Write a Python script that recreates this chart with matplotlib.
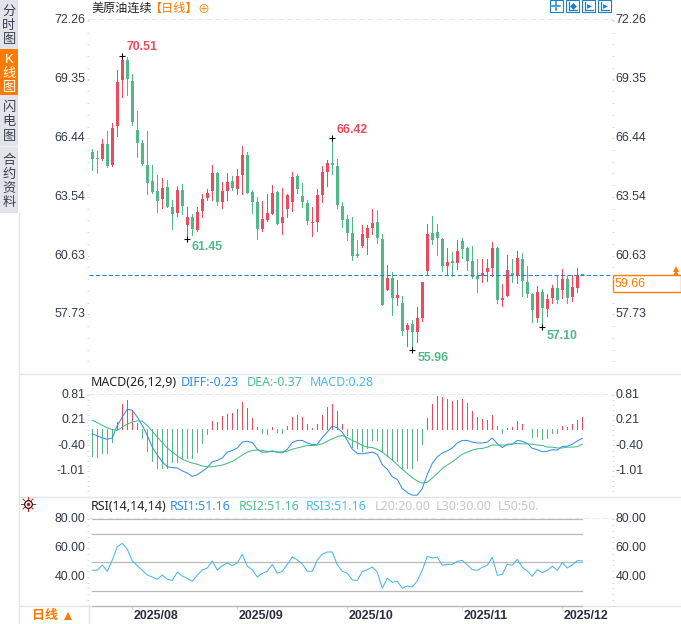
import matplotlib
matplotlib.use('Agg')
import numpy as np
import matplotlib.pyplot as plt
from matplotlib.patches import Rectangle
from matplotlib.ticker import FormatStrFormatter, AutoMinorLocator
from matplotlib.transforms import ScaledTranslation

plt.rcParams['font.family'] = ['Liberation Sans', 'Noto Sans CJK SC', 'DejaVu Sans']
plt.rcParams['axes.unicode_minus'] = False

# daily candles
opens = [65.75,65.46,65.41,66.15,65.11,67.04,69.31,70.30,69.26,66.84,66.18,65.11,64.32,63.82,63.43,64.02,63.03,62.74,63.87,62.14,
	62.54,61.90,62.84,63.48,63.82,64.71,63.28,63.82,64.32,63.92,64.61,65.60,63.77,63.28,61.95,62.39,62.69,63.77,62.24,62.93,
	63.28,64.56,63.58,63.23,62.26,62.29,63.63,64.76,65.21,65.06,63.08,62.44,61.75,60.71,61.11,61.50,61.99,62.29,61.45,58.93,
	59.52,58.53,58.29,56.95,57.25,56.85,57.55,59.87,61.75,61.80,61.45,60.12,60.36,60.27,61.35,61.01,60.36,59.62,59.62,59.82,
	60.02,61.01,58.44,58.63,59.77,59.62,60.46,59.33,58.73,57.55,58.83,57.99,58.54,59.03,58.93,59.47,58.58,59.03,59.70]
highs = [65.90,65.80,66.39,66.79,67.19,69.80,70.51,70.45,69.61,67.78,66.35,66.79,65.11,64.61,64.47,64.37,63.38,64.07,64.17,63.03,
	62.69,63.03,63.68,63.92,65.11,64.76,64.27,64.71,64.57,64.91,66.05,65.75,63.87,63.53,63.33,63.68,64.12,63.82,63.97,63.68,
	64.76,64.66,64.22,63.38,63.03,63.92,65.06,65.36,66.42,65.41,63.28,62.64,62.54,61.40,62.14,62.14,62.93,62.88,61.70,60.17,
	59.82,59.42,58.63,57.30,57.45,58.09,59.33,62.19,62.59,62.19,61.50,61.01,60.81,61.40,61.50,61.06,61.11,60.46,60.46,60.46,
	61.30,61.06,59.23,60.66,60.46,60.86,60.76,60.12,58.78,59.13,59.00,58.73,59.18,59.62,59.97,59.62,59.67,60.02,59.72]
lows = [64.86,64.71,65.36,65.01,65.06,66.54,68.47,68.57,67.09,65.50,65.11,63.68,63.73,62.79,62.98,63.03,61.95,62.59,62.69,61.45,
	61.65,61.85,62.54,63.38,63.38,63.13,62.98,63.38,63.87,63.68,63.68,63.73,62.74,61.45,61.85,62.32,62.69,62.19,61.70,62.54,
	62.83,63.72,63.03,62.19,61.60,61.85,63.28,64.07,64.66,62.98,62.04,61.40,60.41,60.56,61.06,60.71,61.70,61.25,58.19,58.93,
	57.69,58.19,56.71,56.16,55.96,56.36,57.40,59.67,61.20,60.66,59.87,59.72,59.62,59.97,60.51,59.92,59.52,58.83,59.33,59.38,
	59.62,58.29,58.14,58.63,59.33,59.28,58.63,58.58,57.35,57.35,57.10,57.65,58.29,58.29,58.54,58.29,58.39,58.83,59.66]
closes = [65.41,65.42,66.15,65.06,66.94,69.21,70.30,69.36,67.23,66.20,65.16,64.22,63.77,63.33,63.97,63.03,62.69,63.87,63.08,62.54,
	61.95,62.79,63.43,63.73,64.71,63.28,63.82,64.27,63.97,64.57,65.60,63.73,63.28,61.95,62.44,62.74,63.72,62.19,62.54,63.63,
	64.52,63.92,63.28,62.34,62.29,63.63,64.76,65.21,65.11,63.13,62.39,61.75,60.61,60.61,61.70,61.99,62.24,61.50,58.19,59.52,
	58.53,58.68,56.90,57.20,56.85,57.55,59.33,61.70,61.40,61.50,60.12,60.31,60.27,60.86,60.96,60.36,59.57,59.47,59.77,60.02,
	61.01,58.44,58.54,59.92,59.67,60.51,59.38,58.73,57.94,58.83,58.04,58.49,59.03,58.44,59.47,58.54,59.08,59.67,59.66]

macd_hist = [-0.65,-0.67,-0.58,-0.58,-0.32,0.16,0.59,0.69,0.42,0.14,-0.22,-0.53,-0.77,-0.94,-0.94,-0.94,-0.79,-0.79,-0.70,-0.70,
	-0.70,-0.56,-0.34,-0.12,0.19,0.16,0.31,0.35,0.38,0.47,0.63,0.50,0.26,0.04,-0.11,-0.12,0.04,-0.08,-0.11,0.07,
	0.28,0.33,0.28,0.11,0.01,0.11,0.33,0.52,0.59,0.42,0.11,-0.16,-0.44,-0.47,-0.53,-0.46,-0.27,-0.27,-0.56,-0.65,
	-0.75,-0.77,-0.94,-0.94,-0.94,-0.75,-0.36,0.26,0.59,0.78,0.76,0.71,0.67,0.69,0.71,0.62,0.43,0.28,0.23,0.21,
	0.33,0.07,-0.10,0.02,0.04,0.19,0.11,-0.01,-0.20,-0.17,-0.24,-0.22,-0.11,-0.11,0.07,0.04,0.11,0.21,0.28]
diff = [-0.12,-0.17,-0.22,-0.25,-0.22,0.08,0.28,0.47,0.44,0.28,0.08,-0.16,-0.44,-0.63,-0.79,-0.91,-0.93,-0.94,-1.01,-1.06,
	-1.14,-1.10,-1.02,-0.93,-0.79,-0.76,-0.70,-0.56,-0.52,-0.46,-0.32,-0.30,-0.33,-0.49,-0.56,-0.56,-0.53,-0.56,-0.58,-0.49,
	-0.33,-0.28,-0.28,-0.34,-0.38,-0.37,-0.21,-0.08,0.07,0.02,-0.08,-0.28,-0.49,-0.59,-0.60,-0.58,-0.56,-0.61,-0.86,-0.97,
	-1.15,-1.21,-1.43,-1.53,-1.59,-1.59,-1.43,-1.09,-0.83,-0.67,-0.58,-0.53,-0.46,-0.34,-0.28,-0.28,-0.32,-0.34,-0.34,-0.32,
	-0.22,-0.36,-0.45,-0.37,-0.37,-0.28,-0.30,-0.35,-0.47,-0.50,-0.55,-0.54,-0.50,-0.51,-0.42,-0.42,-0.37,-0.29,-0.23]
dea = [0.20,0.15,0.08,0.02,-0.02,-0.04,0.04,0.11,0.16,0.19,0.18,0.08,-0.06,-0.20,-0.33,-0.46,-0.56,-0.65,-0.73,-0.78,
	-0.82,-0.85,-0.89,-0.91,-0.91,-0.89,-0.87,-0.83,-0.78,-0.71,-0.63,-0.56,-0.52,-0.51,-0.52,-0.54,-0.54,-0.56,-0.55,-0.54,
	-0.49,-0.46,-0.43,-0.40,-0.40,-0.39,-0.36,-0.30,-0.24,-0.19,-0.16,-0.21,-0.28,-0.33,-0.40,-0.44,-0.45,-0.49,-0.56,-0.65,
	-0.75,-0.86,-0.97,-1.07,-1.17,-1.25,-1.30,-1.28,-1.18,-1.07,-0.95,-0.87,-0.79,-0.70,-0.61,-0.56,-0.51,-0.48,-0.47,-0.44,
	-0.39,-0.39,-0.39,-0.39,-0.36,-0.35,-0.36,-0.36,-0.37,-0.39,-0.40,-0.44,-0.44,-0.46,-0.46,-0.44,-0.44,-0.43,-0.37]
rsi = [44.6,44.6,48.3,43.9,51.8,61.0,63.3,59.2,51.1,47.8,44.6,41.3,39.9,38.3,41.3,38.3,37.6,43.2,40.6,39.0,
	36.9,41.3,44.8,46.2,51.1,44.8,47.8,49.7,47.8,49.7,55.7,47.4,45.0,39.9,42.5,43.9,48.7,42.5,43.9,48.7,
	53.8,51.8,49.0,43.9,43.9,51.8,55.7,57.3,57.3,48.3,43.9,42.5,37.9,37.6,43.7,45.0,46.9,43.2,32.1,39.0,
	36.2,36.9,32.1,33.7,33.0,37.2,44.8,54.3,53.1,53.8,48.1,48.7,48.7,50.8,51.5,48.3,45.0,44.6,46.7,48.1,
	53.6,41.1,41.8,48.7,48.1,52.2,46.7,44.1,40.4,45.0,42.9,44.6,47.4,44.6,49.9,46.2,48.3,51.3,51.16]

price_ticks = [72.26,69.35,66.44,63.54,60.63,57.73]
macd_ticks = [0.81,0.21,-0.40,-1.01]
rsi_ticks = [80,60,40]
rsi_levels = [80,70,50,30,20]
date_idx = [8,29,51,74,94]
date_labels = ['2025/08','2025/09','2025/10','2025/11','2025/12']
# index of the candle, side, label offset in px
extremes = [(6,'high',4,9),(48,'high',4,8),(19,'low',4,-8),(64,'low',5,-8),(90,'low',4,-9)]

red = '#ec4a5e'
green = '#52b888'
blue = '#2f8cf0'
sky = '#3fb6e8'
orange = '#ff7a00'
label_col = '#333a4a'
line_col = '#dfe5ea'
W, H = 681, 624

fig = plt.figure(figsize=(W/100., H/100.), dpi=100)

def px_axes(left, top, right, bottom):
	a = fig.add_axes([left/W, 1-bottom/H, (right-left)/W, (bottom-top)/H])
	a.set_facecolor('none')
	return a

# page furniture in pixel coordinates
bg = px_axes(0, 0, W, H)
bg.set_xlim(0, W)
bg.set_ylim(H, 0)
bg.axis('off')

bg.add_patch(Rectangle((0,0), 18, 213, fc='#e2e4ea', ec='none'))
bg.add_patch(Rectangle((0,49), 18, 46, fc=orange, ec='none'))
bg.plot([0,18], [146,146], color='#f2f3f6', lw=1)
side = [('分',11.5),('时',25.5),('图',39.5),('K',60),('线',74),('图',88),('闪',108),('电',122.5),('图',137),
	('合',161),('约',174.5),('资',188.5),('料',203)]
for ch, y in side:
	c = 'white' if 49 < y < 95 else '#3c4250'
	bg.text(9, y, ch, ha='center', va='center', fontsize=9.5, color=c)

bg.plot([18.5,18.5], [213,H], color=line_col, lw=1)
bg.plot([19,W], [373.5,373.5], color=line_col, lw=1)
bg.plot([19,W], [496.5,496.5], color=line_col, lw=1)
bg.plot([19,W], [605.5,605.5], color=line_col, lw=1)
bg.plot([88.5,88.5], [605,H], color=line_col, lw=1)

bg.text(91, 8.5, '美原油连续', fontsize=8.7, va='center', color='#222222')
bg.text(149.5, 8.5, '【日线】', fontsize=8.7, va='center', color=orange)
bg.text(204, 9, '⊕', fontsize=8.7, ha='center', va='center', color=orange)

bg.text(91, 383, 'MACD(26,12,9)', fontsize=8.95, va='center', color='#222222', family=['Noto Sans'])
bg.text(181, 383, 'DIFF:-0.23', fontsize=8.95, va='center', color=blue, family=['Noto Sans'])
bg.text(247, 383, 'DEA:-0.37', fontsize=8.95, va='center', color='#4cc08e', family=['Noto Sans'])
bg.text(310, 383, 'MACD:0.28', fontsize=8.95, va='center', color='#46b8f0', family=['Noto Sans'])

bg.text(91, 507, 'RSI(14,14,14)', fontsize=8.95, va='center', color='#222222', family=['Noto Sans'])
bg.text(170, 507, 'RSI1:51.16', fontsize=8.95, va='center', color=blue, family=['Noto Sans'])
bg.text(239, 507, 'RSI2:51.16', fontsize=8.95, va='center', color='#4cc08e', family=['Noto Sans'])
bg.text(306, 507, 'RSI3:51.16', fontsize=8.95, va='center', color='#46b8f0', family=['Noto Sans'])
bg.text(375, 507, 'L20:20.00', fontsize=8.95, va='center', color='#c6c6c6', family=['Noto Sans'])
bg.text(436, 507, 'L30:30.00', fontsize=8.95, va='center', color='#c6c6c6', family=['Noto Sans'])
bg.text(498, 507, 'L50:50.', fontsize=8.95, va='center', color='#c6c6c6', family=['Noto Sans'])

# little settings sun next to the RSI title
bg.plot([28], [504], 'o', ms=5.5, mfc='white', mec='black', mew=0.8)
bg.plot([28], [504], 'o', ms=2.6, mfc='#e01010', mew=0)
for ang in np.arange(0, 360, 45):
	dx, dy = np.cos(np.radians(ang)), np.sin(np.radians(ang))
	bg.plot([28+5*dx, 28+7*dx], [504+5*dy, 504+7*dy], color='#e01010', lw=0.7)

bg.text(32, 616, '日线', fontsize=9.3, va='center', color=orange, weight='bold')
bg.plot([68], [616], '^', ms=6, color=orange, mew=0)

# toolbar icons, top right
for left, kind in zip([549.5,565.5,581.5,597.5], range(4)):
	bg.add_patch(Rectangle((left,0), 13, 12, fc='white', ec='#1a7fc4', lw=0.8))
	mid = left + 6.5
	if kind == 0:
		bg.plot([mid-4,mid-1], [6,6], color='#1a7fc4', lw=1.1)
		bg.plot([mid+1,mid+4], [6,6], color='#1a7fc4', lw=1.1)
		bg.plot([mid,mid], [2,4.5], color='#1a7fc4', lw=1.1)
		bg.plot([mid,mid], [7.5,10], color='#1a7fc4', lw=1.1)
	else:
		bg.plot([left+3,left+3], [2,10], color='#1a7fc4', lw=0.9)
		bg.plot([left+3,left+11], [10,10], color='#1a7fc4', lw=0.9)
		bg.plot([mid+1], [5.5], '>' if kind > 1 else 'D', ms=3.5, color='#1a7fc4', mew=0)

# last price tag
bg.add_patch(Rectangle((612.5,275), 68, 17, fc='white', ec=orange, lw=1))
bg.text(615, 284, '%.2f' % closes[-1], fontsize=8.9, va='center', color=orange)
bg.plot([675.5,675.5], [269,273], '^', ms=5, color=orange, mew=0)

def style_axes(a, ticks, fmt):
	for s in ['left','right','bottom']:
		a.spines[s].set_visible(False)
	a.spines['top'].set_color('#e8e8e8')
	a.spines['top'].set_linewidth(0.72)
	a.spines['top'].set_linestyle((0,(5,4)))
	a.set_xlim(-0.66, 103.94)
	a.set_yticks(ticks)
	a.yaxis.set_major_formatter(FormatStrFormatter(fmt))
	a.yaxis.set_minor_locator(AutoMinorLocator(5))
	a.tick_params(axis='y', which='major', left=True, right=True, labelleft=True, labelright=True,
		length=1.5, width=0.7, color='#c9d3dc', pad=1.2, labelsize=8.9, labelcolor=label_col)
	a.tick_params(axis='y', which='minor', left=True, right=True, length=1.2, width=0.7, color='#d5dce3')
	a.tick_params(axis='x', which='both', bottom=False, labelbottom=False)
	off = ScaledTranslation(0, 0.014, fig.dpi_scale_trans)
	for lab in a.yaxis.get_majorticklabels():
		lab.set_transform(lab.get_transform() + off)

x = np.arange(len(closes))
opens_a, closes_a = np.array(opens), np.array(closes)
up = closes_a >= opens_a

# candles
ax = px_axes(89, 19.3, 612, 372)
ax.set_ylim(54.88, 72.31)
cols = [red if u else green for u in up]
ax.vlines(x, lows, highs, colors=cols, lw=0.72, antialiased=False)
tops = np.maximum(opens_a, closes_a)
bots = np.minimum(opens_a, closes_a)
ax.bar(x, np.maximum(tops-bots, 0.04), bottom=bots, width=0.66, color=cols, linewidth=0, antialiased=False)
ax.axhline(closes[-1], color='#1f7fe0', lw=0.75, ls=(0,(4,2.2)))
style_axes(ax, price_ticks, '%.2f')

for i, side_name, dx, dy in extremes:
	val = highs[i] if side_name == 'high' else lows[i]
	col = red if side_name == 'high' else green
	ax.plot([i], [val], '+', color='black', ms=5, mew=0.8, clip_on=False)
	ax.annotate('%.2f' % val, (i, val), xytext=(dx*0.72, dy*0.72), textcoords='offset points',
		va='center', fontsize=8.9, weight='bold', color=col)

# MACD
ax2 = px_axes(89, 394.3, 612, 496)
ax2.set_ylim(-1.61, 0.825)
hist = np.array(macd_hist)
ax2.vlines(x, 0, hist, colors=[red if h > 0 else green for h in hist], lw=0.72, antialiased=False)
ax2.plot(x, diff, color=blue, lw=0.72)
ax2.plot(x, dea, color='#3dba82', lw=0.72)
style_axes(ax2, macd_ticks, '%.2f')

# RSI
ax3 = px_axes(89, 518, 612, 605.7)
ax3.set_ylim(20, 80.9)
for lev in rsi_levels:
	ax3.plot([x[0], x[-1]], [lev, lev], color='#b9b9b9', lw=0.9, clip_on=False)
ax3.plot(x, rsi, color=sky, lw=0.72)
style_axes(ax3, rsi_ticks, '%.2f')
ax3.set_xticks(date_idx)
ax3.set_xticklabels(date_labels)
ax3.tick_params(axis='x', which='major', bottom=True, labelbottom=True, length=2.2, width=0.7, color='#c9d3dc',
	pad=0.6, labelsize=8.9, labelcolor='#2b3040')
for lab in ax3.get_xticklabels():
	lab.set_ha('left')
	lab.set_weight('bold')
	lab.set_transform(lab.get_transform() + ScaledTranslation(0.015, 0, fig.dpi_scale_trans))

fig.savefig('out.png', dpi=100)
plt.close('all')
